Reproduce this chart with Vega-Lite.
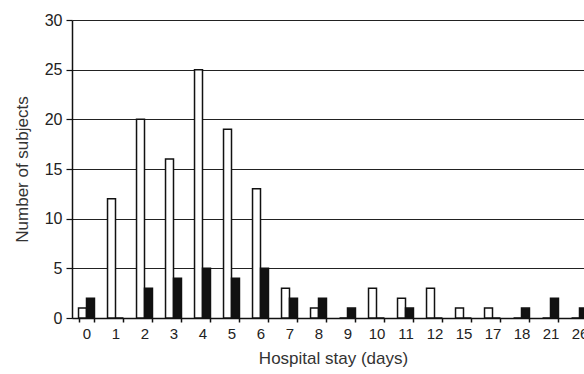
{
  "$schema": "https://vega.github.io/schema/vega-lite/v6.json",
  "width": 522,
  "height": 298,
  "autosize": {"type": "none"},
  "padding": {"left": 72, "top": 20, "right": 0, "bottom": 56},
  "background": "white",
  "config": {
    "view": {"stroke": null},
    "font": "Liberation Sans"
  },
  "data": {
    "values": [
      {"day": "0", "group": "A", "n": 1}, {"day": "0", "group": "B", "n": 2},
      {"day": "1", "group": "A", "n": 12}, {"day": "1", "group": "B", "n": 0},
      {"day": "2", "group": "A", "n": 20}, {"day": "2", "group": "B", "n": 3},
      {"day": "3", "group": "A", "n": 16}, {"day": "3", "group": "B", "n": 4},
      {"day": "4", "group": "A", "n": 25}, {"day": "4", "group": "B", "n": 5},
      {"day": "5", "group": "A", "n": 19}, {"day": "5", "group": "B", "n": 4},
      {"day": "6", "group": "A", "n": 13}, {"day": "6", "group": "B", "n": 5},
      {"day": "7", "group": "A", "n": 3}, {"day": "7", "group": "B", "n": 2},
      {"day": "8", "group": "A", "n": 1}, {"day": "8", "group": "B", "n": 2},
      {"day": "9", "group": "A", "n": 0}, {"day": "9", "group": "B", "n": 1},
      {"day": "10", "group": "A", "n": 3}, {"day": "10", "group": "B", "n": 0},
      {"day": "11", "group": "A", "n": 2}, {"day": "11", "group": "B", "n": 1},
      {"day": "12", "group": "A", "n": 3}, {"day": "12", "group": "B", "n": 0},
      {"day": "15", "group": "A", "n": 1}, {"day": "15", "group": "B", "n": 0},
      {"day": "17", "group": "A", "n": 1}, {"day": "17", "group": "B", "n": 0},
      {"day": "18", "group": "A", "n": 0}, {"day": "18", "group": "B", "n": 1},
      {"day": "21", "group": "A", "n": 0}, {"day": "21", "group": "B", "n": 2},
      {"day": "26", "group": "A", "n": 0}, {"day": "26", "group": "B", "n": 1}
    ]
  },
  "mark": {"type": "bar", "stroke": "#111", "strokeWidth": 1.5},
  "encoding": {
    "x": {
      "field": "day",
      "type": "ordinal",
      "sort": null,
      "scale": {"paddingInner": 0.45, "paddingOuter": 0.225},
      "axis": {
        "title": "Hospital stay (days)",
        "titleFontSize": 17,
        "titleFontWeight": "normal",
        "titleColor": "#333",
        "titlePadding": 9,
        "labelAngle": 0,
        "labelFontSize": 15,
        "labelColor": "#222",
        "labelPadding": 4,
        "tickBand": "extent",
        "tickSize": 4,
        "tickColor": "#111",
        "tickWidth": 1.5,
        "domainColor": "#111",
        "domainWidth": 1.5
      }
    },
    "xOffset": {"field": "group", "sort": ["A", "B"]},
    "y": {
      "field": "n",
      "type": "quantitative",
      "scale": {"domain": [0, 30]},
      "axis": {
        "title": "Number of subjects",
        "titleFontSize": 17,
        "titleFontWeight": "normal",
        "titleColor": "#333",
        "titlePadding": 13,
        "values": [0, 5, 10, 15, 20, 25, 30],
        "labelFontSize": 16,
        "labelColor": "#222",
        "labelPadding": 4,
        "tickSize": 6,
        "tickColor": "#111",
        "tickWidth": 1.2,
        "domainColor": "#111",
        "domainWidth": 1.5,
        "grid": true,
        "gridColor": "#222",
        "gridWidth": 1.2
      }
    },
    "fill": {
      "field": "group",
      "type": "nominal",
      "scale": {"domain": ["A", "B"], "range": ["white", "#111"]},
      "legend": null
    }
  }
}
